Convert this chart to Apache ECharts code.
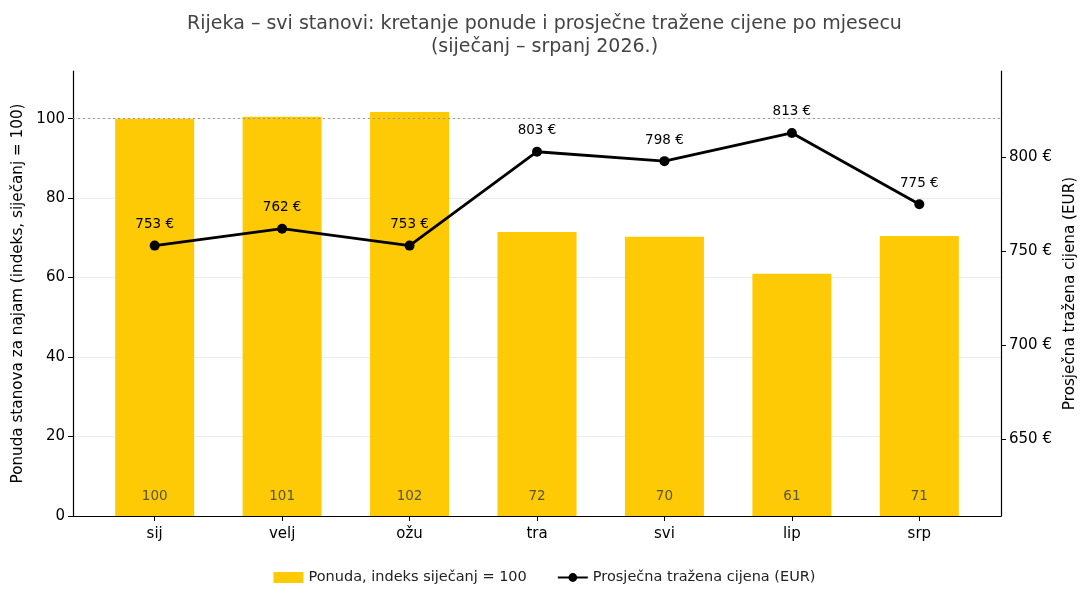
<!DOCTYPE html>
<html>
<head>
  <meta charset="utf-8">
  <title>Rijeka</title>
  <script src="https://cdn.jsdelivr.net/npm/echarts@6/dist/echarts.min.js"></script>
  <style>
    html, body { margin: 0; padding: 0; background: #fff; }
    #main { width: 1089px; height: 602px; }
  </style>
</head>
<body>
<div id="main"></div>
<script type="text/javascript">
  // mjeseci i vrijednosti
  var months = ['sij', 'velj', 'ožu', 'tra', 'svi', 'lip', 'srp'];
  var supplyIndex = [100, 100.5, 101.7, 71.5, 70.3, 61, 70.5];
  var supplyLabels = [100, 101, 102, 72, 70, 61, 71];
  var avgPrice = [753, 762, 753, 803, 798, 813, 775];
  var leftTicks = [0, 20, 40, 60, 80, 100];
  var rightTicks = [650, 700, 750, 800];

  var font = 'DejaVu Sans';
  var monthIdx = months.map(function (m, i) { return i; });
  var barData = supplyIndex.map(function (v, i) { return [i, v]; });
  var lineData = avgPrice.map(function (v, i) { return [i, v]; });

  var myChart = echarts.init(document.getElementById('main'));

  var option = {
    animation: false,
    textStyle: { fontFamily: font },
    title: {
      text: 'Rijeka – svi stanovi: kretanje ponude i prosječne tražene cijene po mjesecu\n(siječanj – srpanj 2026.)',
      left: 'center',
      top: 8,
      textStyle: { fontFamily: font, fontSize: 19, fontWeight: 'normal', color: '#444', lineHeight: 23 }
    },
    legend: {
      bottom: 12,
      left: 'center',
      itemGap: 30,
      textStyle: { fontFamily: font, fontSize: 14.5, color: '#222' },
      data: [
        { name: 'Ponuda, indeks siječanj = 100', icon: 'rect', itemStyle: { color: '#FDCA05' } },
        { name: 'Prosječna tražena cijena (EUR)' }
      ],
      itemWidth: 30,
      itemHeight: 11
    },
    grid: { left: 73, right: 88, top: 71, bottom: 86 },
    xAxis: {
      type: 'value',
      min: -0.641,
      max: 6.641,
      axisLine: { onZero: false, lineStyle: { color: '#000', width: 1.2 } },
      axisTick: { show: true, length: 5, customValues: monthIdx, lineStyle: { color: '#000' } },
      axisLabel: {
        color: '#000', fontSize: 15, margin: 11, fontFamily: font, customValues: monthIdx,
        formatter: function (v) { return months[Math.round(v)]; }
      },
      splitLine: { show: false }
    },
    yAxis: [
      {
        type: 'value',
        min: 0,
        max: 112,
        name: 'Ponuda stanova za najam (indeks, siječanj = 100)',
        nameLocation: 'middle',
        nameGap: 47,
        nameTextStyle: { fontFamily: font, fontSize: 15.2, color: '#000' },
        axisLine: { show: true, onZero: false, lineStyle: { color: '#000', width: 1.2 } },
        axisTick: { show: true, length: 5, customValues: leftTicks, lineStyle: { color: '#000' } },
        axisLabel: { color: '#000', fontSize: 15, customValues: leftTicks, fontFamily: font },
        splitLine: { show: true, lineStyle: { color: '#ececec', width: 1 } }
      },
      {
        type: 'value',
        min: 609,
        max: 846,
        position: 'right',
        name: 'Prosječna tražena cijena (EUR)',
        nameLocation: 'middle',
        nameGap: 62,
        nameRotate: 90,
        nameTextStyle: { fontFamily: font, fontSize: 15.2, color: '#000' },
        axisLine: { show: true, onZero: false, lineStyle: { color: '#000', width: 1.2 } },
        axisTick: { show: true, length: 5, customValues: rightTicks, lineStyle: { color: '#000' } },
        axisLabel: {
          color: '#000', fontSize: 15, customValues: rightTicks, fontFamily: font,
          formatter: function (v) { return v + ' €'; }
        },
        splitLine: { show: false }
      }
    ],
    series: [
      {
        name: 'Ponuda, indeks siječanj = 100',
        type: 'bar',
        yAxisIndex: 0,
        barWidth: 79,
        data: barData,
        itemStyle: { color: '#FDCA05' },
        label: {
          show: true,
          position: 'insideBottom',
          distance: 13,
          color: '#5a5535',
          fontSize: 13.5,
          fontFamily: font,
          formatter: function (p) { return supplyLabels[p.dataIndex]; }
        },
        markLine: {
          silent: true,
          symbol: 'none',
          label: { show: false },
          lineStyle: { color: '#999', type: [2, 3], width: 1.2 },
          data: [{ yAxis: 100 }]
        },
        z: 2
      },
      {
        name: 'Prosječna tražena cijena (EUR)',
        type: 'line',
        yAxisIndex: 1,
        data: lineData,
        symbol: 'circle',
        symbolSize: 10,
        lineStyle: { color: '#000', width: 2.8 },
        itemStyle: { color: '#000' },
        label: {
          show: true,
          position: 'top',
          distance: 9,
          color: '#000',
          fontSize: 13.5,
          fontFamily: font,
          formatter: function (p) { return p.value[1] + ' €'; }
        },
        z: 5
      }
    ]
  };

  myChart.setOption(option);
</script>
</body>
</html>
